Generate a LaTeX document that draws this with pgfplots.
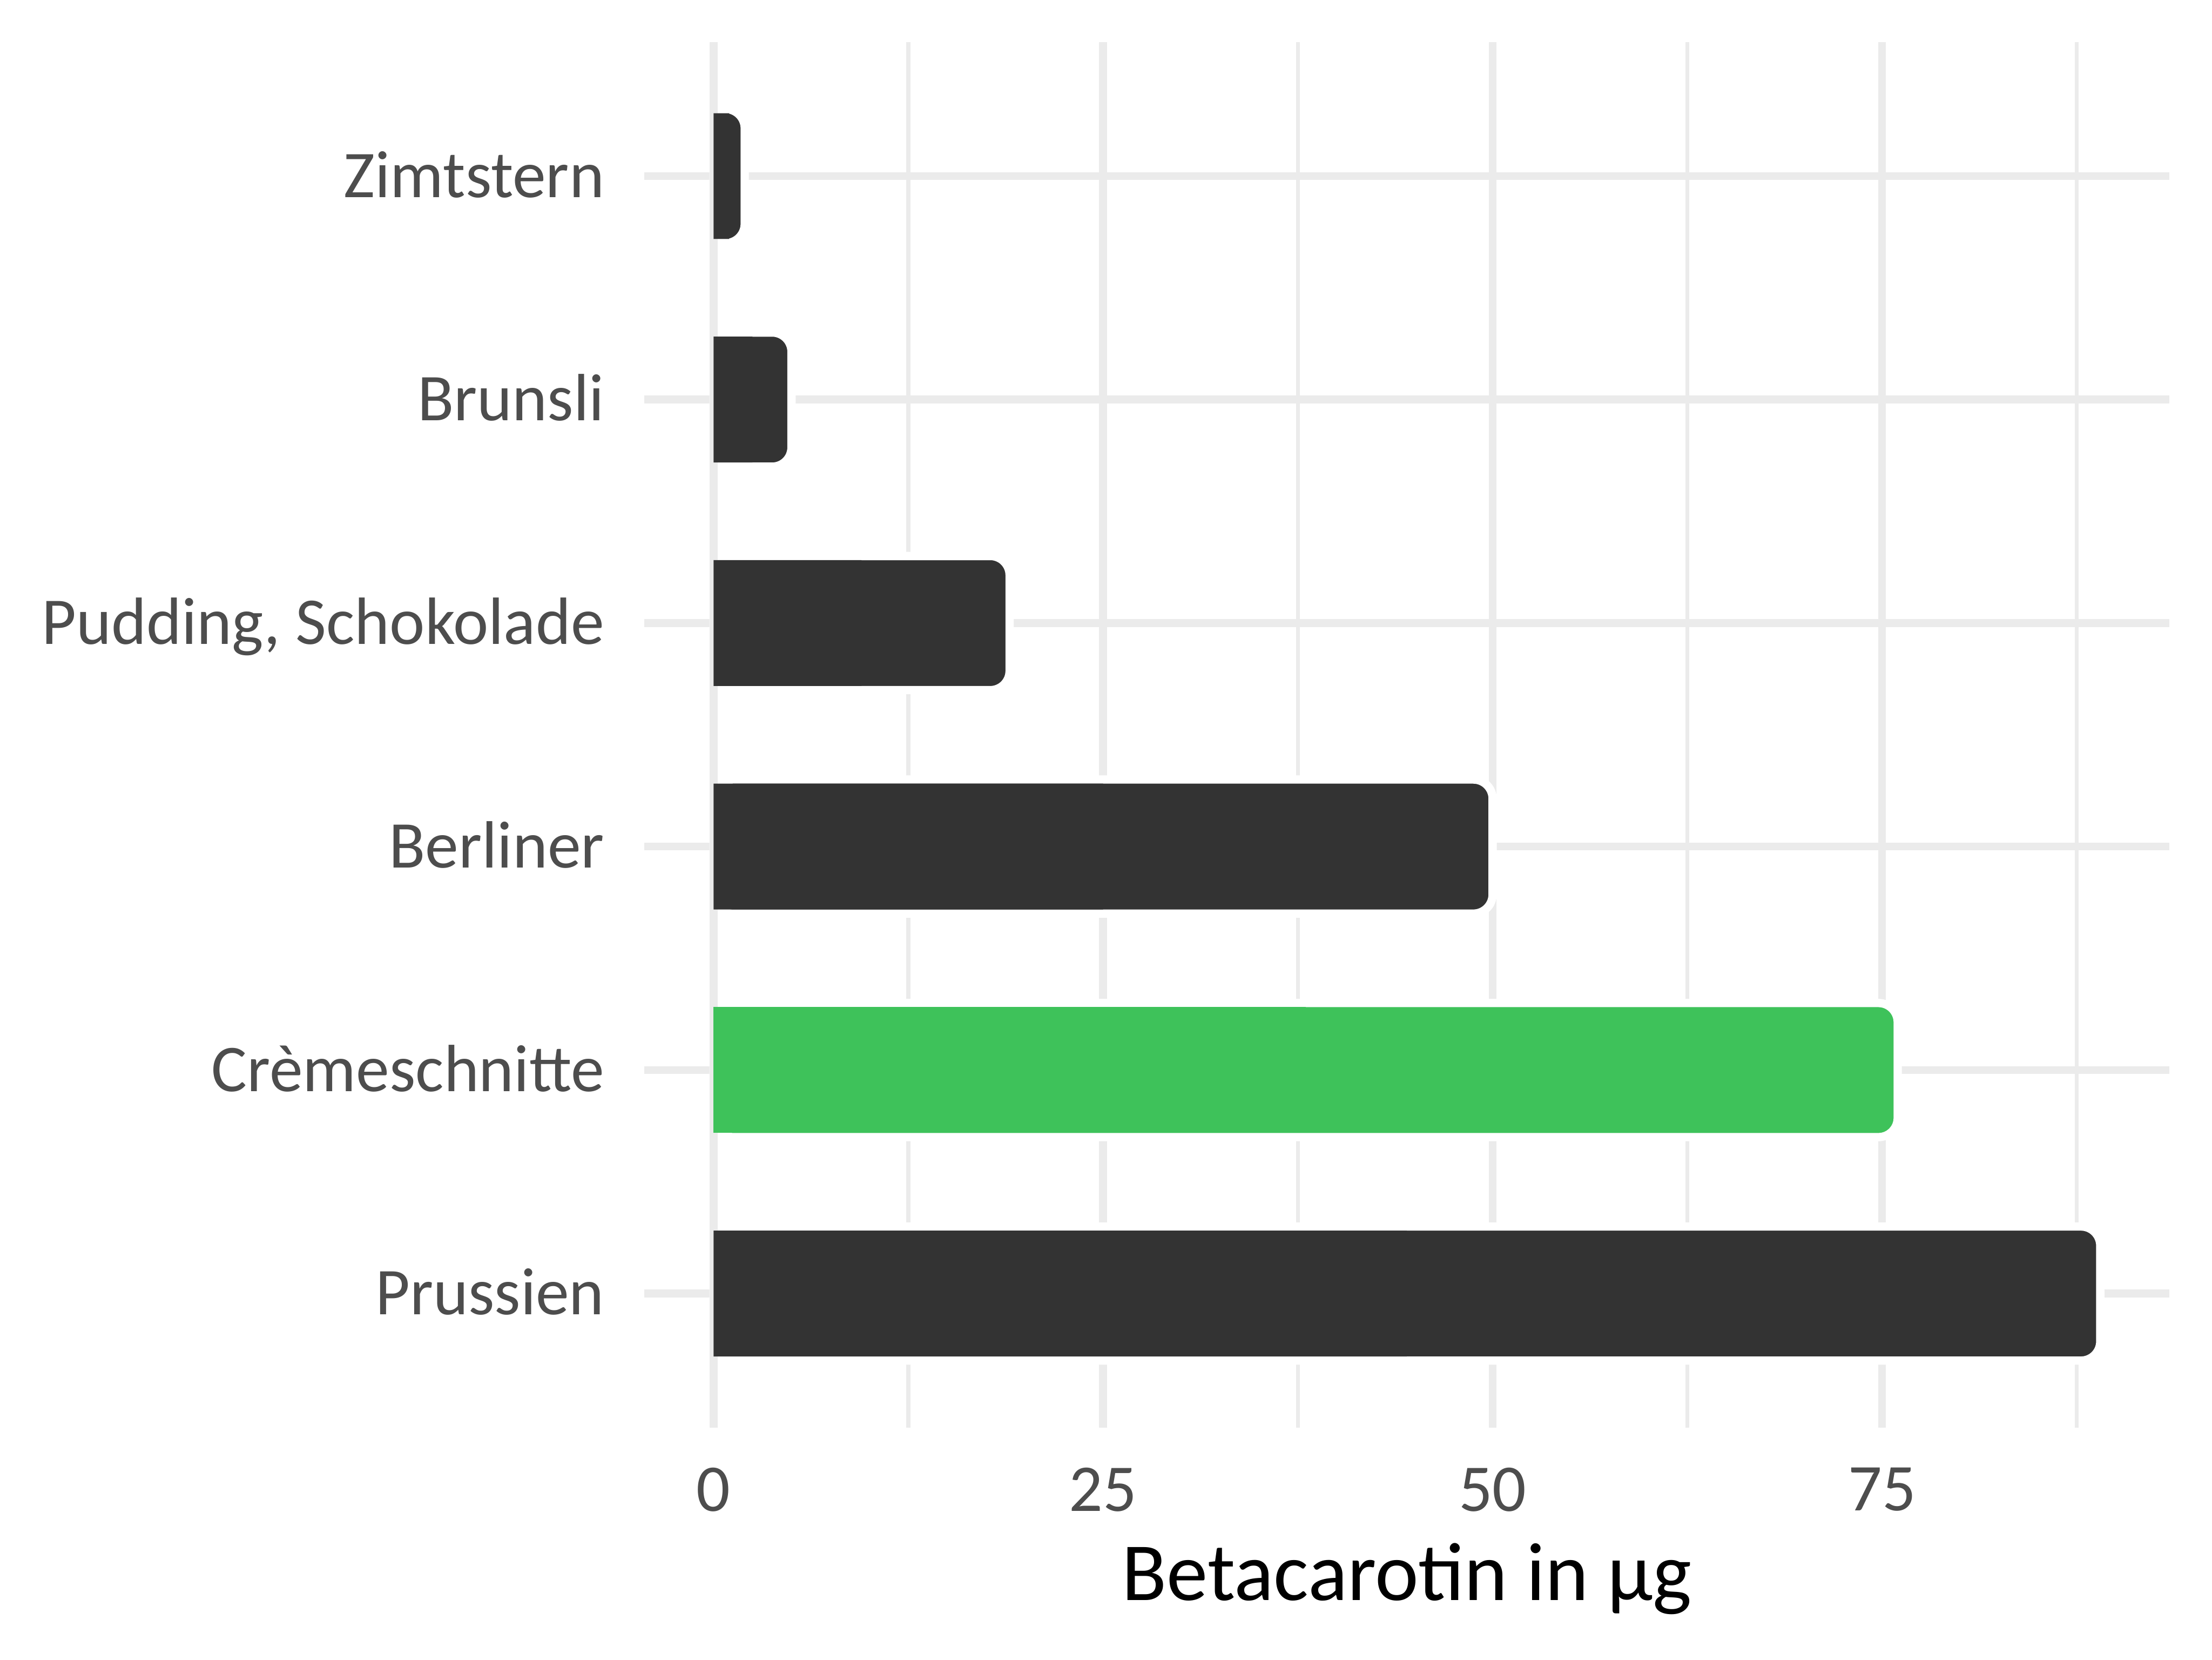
\documentclass[border=0pt]{standalone}
\usepackage{fontspec}
\setmainfont{Carlito}
\usepackage{pgfplots}
\pgfplotsset{compat=1.18}
\usepackage{pgfplotstable}

\definecolor{bardark}{HTML}{333333}
\definecolor{bargreen}{HTML}{3EC25A}
\definecolor{gridgray}{HTML}{EBEBEB}
\definecolor{ticktext}{HTML}{4D4D4D}

% y = category slot (1 = bottom), v = Betacarotin in ug
\pgfplotstableread{
y v
1 89
3 50
4 19
5 5
6 2
}\darkbars
\pgfplotstableread{
y v
2 76
}\greenbars

\begin{document}
\begin{tikzpicture}
\useasboundingbox (-167.76pt,-60.37pt) rectangle (408.24pt,371.65pt);
\begin{axis}[
  at={(0pt,0pt)}, anchor=south west,
  scale only axis, width=397.2pt, height=360.72pt,
  xmin=-4.45, xmax=93.45, ymin=0.4, ymax=6.6,
  axis line style={draw=none},
  tick style={draw=none},
  xtick={0,25,50,75},
  minor xtick={12.5,37.5,62.5,87.5},
  ytick={1,2,3,4,5,6},
  yticklabels={Prussien,Crèmeschnitte,Berliner,{Pudding, Schokolade},Brunsli,Zimtstern},
  xmajorgrids, xminorgrids, ymajorgrids,
  major grid style={gridgray, line width=2.04pt},
  minor grid style={gridgray, line width=1.02pt},
  /pgf/number format/assume math mode=true,
  ticklabel style={font=\fontsize{17.4}{20}\selectfont, text=ticktext, inner sep=0pt},
  xticklabel style={anchor=north, yshift=-10.2pt},
  yticklabel style={anchor=east, xshift=-10.2pt, text height=11pt, text depth=0pt},
  xlabel={Betacarotin in µg},
  xlabel style={at={(axis description cs:0.5,0)}, anchor=base, yshift=-45pt,
    inner sep=0pt, font=\fontsize{21.5}{25}\selectfont},
]
% rounded bars with white outline
\addplot[xbar, bar shift=0pt, bar width=0.6, fill=bardark, draw=white,
  line width=2.16pt, rounded corners=5pt] table[x=v, y=y] {\darkbars};
\addplot[xbar, bar shift=0pt, bar width=0.6, fill=bargreen, draw=white,
  line width=2.16pt, rounded corners=5pt] table[x=v, y=y] {\greenbars};
% zero grid line again, then square left ends
\addplot[gridgray, line width=2.04pt] coordinates {(0,0.4) (0,6.6)};
\addplot[xbar, bar shift=0pt, bar width=0.563, fill=bardark, draw=none,
  x filter/.expression={x/2}] table[x=v, y=y] {\darkbars};
\addplot[xbar, bar shift=0pt, bar width=0.563, fill=bargreen, draw=none,
  x filter/.expression={x/2}] table[x=v, y=y] {\greenbars};
\end{axis}
\end{tikzpicture}
\end{document}
